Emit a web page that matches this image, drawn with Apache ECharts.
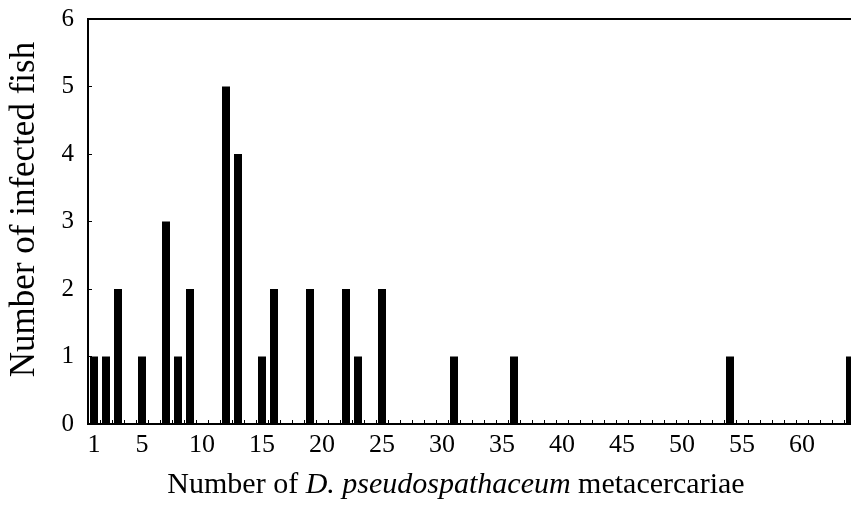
<!DOCTYPE html>
<html>
<head>
<meta charset="utf-8">
<script src="https://cdn.jsdelivr.net/npm/echarts@6/dist/echarts.min.js"></script>
<style>
  html, body { margin: 0; padding: 0; background: #fff; }
  #chart { width: 851px; height: 514px; }
</style>
</head>
<body>
<div id="chart"></div>
<script>
// Metacercariae counts per fish (1..64) and how many fish had each count
const counts = Array.from({ length: 64 }, (_, i) => String(i + 1));
const fishWithCount = {
  1: 1, 2: 1, 3: 2, 5: 1, 7: 3, 8: 1, 9: 2, 12: 5, 13: 4, 15: 1, 16: 2,
  19: 2, 22: 2, 23: 1, 25: 2, 31: 1, 36: 1, 54: 1, 64: 1
};
const infectedFish = counts.map(c => fishWithCount[c] || 0);
const xTickLabels = ['1', '5', '10', '15', '20', '25', '30', '35', '40', '45', '50', '55', '60'];
const yTicks = [0, 1, 2, 3, 4, 5, 6];

const serif = '"Liberation Serif", "Times New Roman", serif';
const chart = echarts.init(document.getElementById('chart'));
chart.setOption({
  animation: false,
  grid: {
    left: 88, top: 19, width: 768, height: 405,
    outerBoundsMode: 'none',
    containLabel: false,
    show: true, borderColor: '#000', borderWidth: 2, backgroundColor: 'transparent'
  },
  xAxis: {
    type: 'category',
    data: counts,
    axisLine: { lineStyle: { color: '#000', width: 2 } },
    axisTick: { show: true, inside: true, length: 4, interval: 0, lineStyle: { color: '#000', width: 1 } },
    axisLabel: {
      interval: (idx, val) => xTickLabels.includes(val),
      color: '#000', fontFamily: serif, fontSize: 26, margin: 8
    },
    name: '{n|Number of }{i|D. pseudospathaceum}{n| metacercariae}',
    nameLocation: 'middle',
    nameGap: 46,
    nameTextStyle: {
      padding: [0, 32, 0, 0],
      rich: {
        n: { fontFamily: serif, fontSize: 30, color: '#000' },
        i: { fontFamily: serif, fontSize: 30, fontStyle: 'italic', color: '#000' }
      }
    }
  },
  yAxis: {
    type: 'value',
    min: yTicks[0], max: yTicks[yTicks.length - 1], interval: 1,
    splitLine: { show: false },
    axisLine: { show: true, lineStyle: { color: '#000', width: 2 } },
    axisTick: { show: true, inside: true, length: 4, lineStyle: { color: '#000', width: 1 } },
    axisLabel: { color: '#000', fontFamily: serif, fontSize: 25, margin: 14 },
    name: 'Number of infected fish',
    nameLocation: 'middle',
    nameGap: 46,
    nameTextStyle: { fontFamily: serif, fontSize: 35, color: '#000', padding: [0, 0, 0, 24] }
  },
  series: [{
    type: 'bar',
    data: infectedFish,
    barWidth: 8,
    itemStyle: { color: '#000' }
  }]
});
</script>
</body>
</html>
